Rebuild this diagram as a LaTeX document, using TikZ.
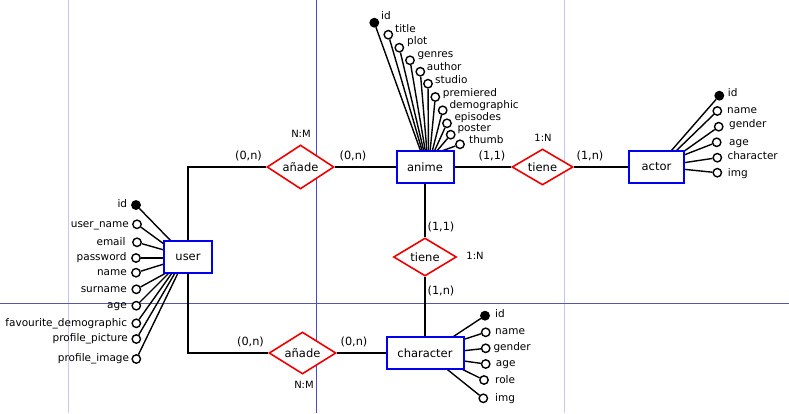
\documentclass[tikz,border=0pt]{standalone}
\usepackage{fontspec}
\setmainfont{DejaVu Sans}
\usetikzlibrary{shapes.geometric}
\definecolor{pagelight}{HTML}{C8C8F0}
\definecolor{pagemid}{HTML}{4848C8}
\definecolor{pagehor}{HTML}{5858A0}
\definecolor{entblue}{HTML}{0000F0}
\definecolor{relred}{HTML}{F00000}
\tikzset{
  entity/.style={draw=entblue, line width=2pt, fill=white, rectangle, inner sep=0pt, font=\fontsize{11.5}{13}\selectfont},
  relation/.style={draw=relred, line width=1.6pt, fill=white, diamond, inner sep=0pt, font=\fontsize{11.5}{13}\selectfont},
  attr/.style={draw=black, line width=1.4pt, circle, fill=white, minimum size=8.4pt, inner sep=0pt},
  keyattr/.style={attr, fill=black},
  alabel/.style={inner sep=0pt, font=\fontsize{10.5}{12}\selectfont, text height=7.7pt, text depth=2.3pt},
  card/.style={inner sep=0pt, font=\fontsize{11.3}{13}\selectfont, text height=8.2pt, text depth=2.6pt},
  ratio/.style={inner sep=0pt, font=\fontsize{10}{11}\selectfont, text height=7.3pt, text depth=0pt},
  conn/.style={draw=black, line width=1.7pt},
  aconn/.style={draw=black, line width=1.4pt},
}
\begin{document}
\begin{tikzpicture}[x=1pt,y=-1pt]
\useasboundingbox (0,0) rectangle (789,413);
% page borders
\draw[pagelight, line width=1pt] (68.5,0) -- (68.5,413);
\draw[pagemid, line width=1pt] (316.5,0) -- (316.5,413);
\draw[pagelight, line width=1pt] (564.5,0) -- (564.5,413);
\draw[pagehor, line width=1pt] (0,303.5) -- (789,303.5);

% entities
\node[entity, minimum width=48pt, minimum height=32pt] (user) at (188,257) {user};
\node[entity, minimum width=57pt, minimum height=32pt] (anime) at (425,167) {anime};
\node[entity, minimum width=55pt, minimum height=32pt] (actor) at (656.5,167) {actor};
\node[entity, minimum width=77pt, minimum height=32pt] (character) at (425,353) {character};

% relations
\node[relation, minimum width=67pt, minimum height=44pt, aspect=1.52] (add1) at (300.5,167) {añade};
\node[relation, minimum width=67pt, minimum height=42pt, aspect=1.6] (add2) at (302.5,353) {añade};
\node[relation, minimum width=61pt, minimum height=36pt, aspect=1.7] (has1) at (542.5,167) {tiene};
\node[relation, minimum width=63pt, minimum height=38pt, aspect=1.66] (has2) at (425,257) {tiene};

% connectors
\draw[conn] (user.north) |- (add1.west);
\draw[conn] (add1.east) -- (anime.west);
\draw[conn] (user.south) |- (add2.west);
\draw[conn] (add2.east) -- (character.west);
\draw[conn] (anime.east) -- (has1.west);
\draw[conn] (has1.east) -- (actor.west);
\draw[conn] (anime.south) -- (has2.north);
\draw[conn] (has2.south) -- (character.north);

% cardinalities
\node[card] (c1) at (248.5,157) {(0,n)};
\node[card] (c2) at (353,157) {(0,n)};
\node[ratio] (r1) at (301,134) {N:M};
\node[card] (c3) at (492,157) {(1,1)};
\node[card] (c4) at (590,157) {(1,n)};
\node[ratio] (r2) at (543,138) {1:N};
\node[card] (c5) at (441,228) {(1,1)};
\node[card] (c6) at (441,292) {(1,n)};
\node[ratio] (r3) at (475,256) {1:N};
\node[card] (c7) at (250.5,343) {(0,n)};
\node[card] (c8) at (354,343) {(0,n)};
\node[ratio] (r4) at (304,385) {N:M};

% anime attributes
\node[keyattr] (a1) at (374.3,22.7) {};
\node[attr] (a2) at (388.3,34.7) {};
\node[attr] (a3) at (399.3,47.7) {};
\node[attr] (a4) at (410,60.3) {};
\node[attr] (a5) at (420.3,71.7) {};
\node[attr] (a6) at (428,83.7) {};
\node[attr] (a7) at (435.3,97) {};
\node[attr] (a8) at (442.7,110.3) {};
\node[attr] (a9) at (447,123.3) {};
\node[attr] (a10) at (450.7,134.7) {};
\node[attr] (a11) at (460,144.3) {};
\foreach \i/\x in {1/421,2/422.5,3/424,4/425.5,5/427,6/428.5,7/430,8/432,9/434,10/436,11/439}{
  \coordinate (ae\i) at (\x,152);
  \draw[aconn] (a\i) -- (ae\i);
}
\node[alabel, anchor=west] (la1) at (381,16.5) {id};
\node[alabel, anchor=west] (la2) at (395,29.7) {title};
\node[alabel, anchor=west] (la3) at (407,41.7) {plot};
\node[alabel, anchor=west] (la4) at (417.3,54.3) {genres};
\node[alabel, anchor=west] (la5) at (426.7,67.7) {author};
\node[alabel, anchor=west] (la6) at (435,80.7) {studio};
\node[alabel, anchor=west] (la7) at (442.7,93.3) {premiered};
\node[alabel, anchor=west] (la8) at (449.3,106) {demographic};
\node[alabel, anchor=west] (la9) at (454.3,117.3) {episodes};
\node[alabel, anchor=west] (la10) at (457.3,128.7) {poster};
\node[alabel, anchor=west] (la11) at (469,140.7) {thumb};

% actor attributes
\node[keyattr] (b1) at (719.3,95.7) {};
\node[attr] (b2) at (717.3,111) {};
\node[attr] (b3) at (718.7,126.7) {};
\node[attr] (b4) at (716.7,142.3) {};
\node[attr] (b5) at (717.3,157.7) {};
\node[attr] (b6) at (717.3,172.7) {};
\coordinate (be1) at (671,151);
\coordinate (be2) at (676,151);
\coordinate (be3) at (683,152);
\coordinate (be4) at (684,155);
\coordinate (be5) at (684,162.7);
\coordinate (be6) at (684,169.3);
\foreach \i in {1,...,6}{\draw[aconn] (b\i) -- (be\i);}
\node[alabel, anchor=west] (lb1) at (727.7,94) {id};
\node[alabel, anchor=west] (lb2) at (727,110.7) {name};
\node[alabel, anchor=west] (lb3) at (729,125) {gender};
\node[alabel, anchor=west] (lb4) at (729,142.7) {age};
\node[alabel, anchor=west] (lb5) at (727.3,156.7) {character};
\node[alabel, anchor=west] (lb6) at (727.7,173.3) {img};

% user attributes
\node[keyattr] (u1) at (136,205) {};
\node[attr] (u2) at (137,224.3) {};
\node[attr] (u3) at (137,242.3) {};
\node[attr] (u4) at (136,258) {};
\node[attr] (u5) at (136,272.7) {};
\node[attr] (u6) at (136.3,289.3) {};
\node[attr] (u7) at (136.3,305.7) {};
\node[attr] (u8) at (136.3,323.3) {};
\node[attr] (u9) at (136.3,339) {};
\node[attr] (u10) at (136.3,359) {};
\coordinate (ue1) at (171,241);
\coordinate (ue2) at (164,244);
\coordinate (ue3) at (164,250);
\coordinate (ue4) at (164,258);
\coordinate (ue5) at (164,264);
\coordinate (ue6) at (166,273);
\coordinate (ue7) at (169,273);
\coordinate (ue8) at (172,273);
\coordinate (ue9) at (175,273);
\coordinate (ue10) at (178,273);
\foreach \i in {1,...,10}{\draw[aconn] (u\i) -- (ue\i);}
\node[alabel, anchor=east] (lu1) at (127.3,205) {id};
\node[alabel, anchor=east] (lu2) at (129,224.3) {user\_name};
\node[alabel, anchor=east] (lu3) at (125.7,242.3) {email};
\node[alabel, anchor=east] (lu4) at (126.7,258) {password};
\node[alabel, anchor=east] (lu5) at (127,272.7) {name};
\node[alabel, anchor=east] (lu6) at (127,289.3) {surname};
\node[alabel, anchor=east] (lu7) at (127,305.7) {age};
\node[alabel, anchor=east] (lu8) at (127.3,323.3) {favourite\_demographic};
\node[alabel, anchor=east] (lu9) at (128,339) {profile\_picture};
\node[alabel, anchor=east] (lu10) at (129.3,359) {profile\_image};

% character attributes
\node[keyattr] (h1) at (485,315.7) {};
\node[attr] (h2) at (485.7,332.3) {};
\node[attr] (h3) at (485.7,348.3) {};
\node[attr] (h4) at (485.7,364) {};
\node[attr] (h5) at (484,380) {};
\node[attr] (h6) at (483.3,398.3) {};
\coordinate (he1) at (452.7,337);
\coordinate (he2) at (464,339.3);
\coordinate (he3) at (464,350.7);
\coordinate (he4) at (464,361);
\coordinate (he5) at (461.7,369);
\coordinate (he6) at (446.7,369);
\foreach \i in {1,...,6}{\draw[aconn] (h\i) -- (he\i);}
\node[alabel, anchor=west] (lh1) at (495,315) {id};
\node[alabel, anchor=west] (lh2) at (495,331.7) {name};
\node[alabel, anchor=west] (lh3) at (493.3,347.3) {gender};
\node[alabel, anchor=west] (lh4) at (495.7,363.3) {age};
\node[alabel, anchor=west] (lh5) at (495,380.7) {role};
\node[alabel, anchor=west] (lh6) at (495,399) {img};

% redraw entity boxes on top of attribute lines
\node[entity, minimum width=48pt, minimum height=32pt] at (188,257) {user};
\node[entity, minimum width=57pt, minimum height=32pt] at (425,167) {anime};
\node[entity, minimum width=55pt, minimum height=32pt] at (656.5,167) {actor};
\node[entity, minimum width=77pt, minimum height=32pt] at (425,353) {character};
\end{tikzpicture}
\end{document}
